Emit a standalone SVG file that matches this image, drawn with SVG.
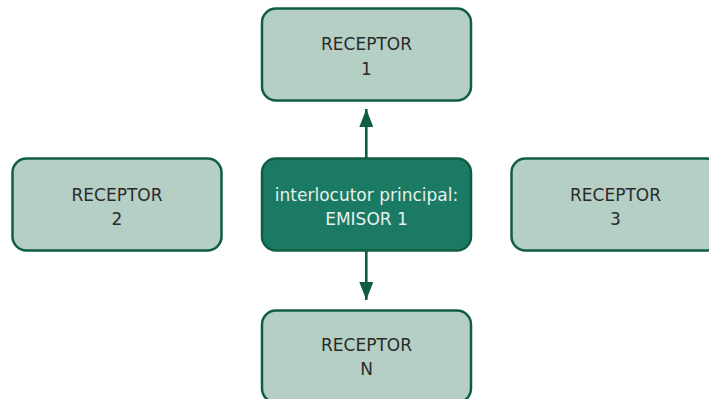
<svg xmlns="http://www.w3.org/2000/svg" width="709" height="399" viewBox="0 0 709 399">
  <defs>
    <marker id="arrow" markerWidth="18" markerHeight="14" refX="18" refY="7" orient="auto" markerUnits="userSpaceOnUse" viewBox="0 0 18 14">
      <path d="M0,0 L18,7 L0,14 Z" fill="#0f5e43"/>
    </marker>
    <style>
      .box { fill: #b5cfc5; stroke: #0f5e43; stroke-width: 2.5; }
      .main { fill: #1b7a63; stroke: #0f5e43; stroke-width: 2.5; }
      .lbl { font-family: "DejaVu Sans", "Noto Sans", sans-serif; font-size: 17px; fill: #2b2b2b; text-anchor: middle; }
      .lbl-main { font-family: "DejaVu Sans", "Noto Sans", sans-serif; font-size: 17px; fill: #e6f0ec; text-anchor: middle; }
      .conn { stroke: #0f5e43; stroke-width: 2.6; fill: none; }
    </style>
  </defs>

  <g id="connectors">
    <line class="conn" x1="366.3" y1="158" x2="366.3" y2="109" marker-end="url(#arrow)"/>
    <line class="conn" x1="366.3" y1="251" x2="366.3" y2="300" marker-end="url(#arrow)"/>
  </g>

  <g id="receptor-1">
    <rect class="box" x="262" y="8.5" width="209" height="92" rx="14"/>
    <text class="lbl" x="366.5" y="50">RECEPTOR</text>
    <text class="lbl" x="366.5" y="75">1</text>
  </g>

  <g id="emisor-1">
    <rect class="main" x="262" y="158.5" width="209" height="92" rx="14"/>
    <text class="lbl-main" x="366.5" y="201">interlocutor principal:</text>
    <text class="lbl-main" x="366.5" y="225">EMISOR 1</text>
  </g>

  <g id="receptor-2">
    <rect class="box" x="12.5" y="158.5" width="209" height="92" rx="14"/>
    <text class="lbl" x="117" y="201">RECEPTOR</text>
    <text class="lbl" x="117" y="225">2</text>
  </g>

  <g id="receptor-3">
    <rect class="box" x="511.5" y="158.5" width="209" height="92" rx="14"/>
    <text class="lbl" x="615.5" y="201">RECEPTOR</text>
    <text class="lbl" x="615.5" y="225">3</text>
  </g>

  <g id="receptor-n">
    <rect class="box" x="262" y="310.5" width="209" height="92" rx="14"/>
    <text class="lbl" x="366.5" y="351">RECEPTOR</text>
    <text class="lbl" x="366.5" y="375">N</text>
  </g>
</svg>
